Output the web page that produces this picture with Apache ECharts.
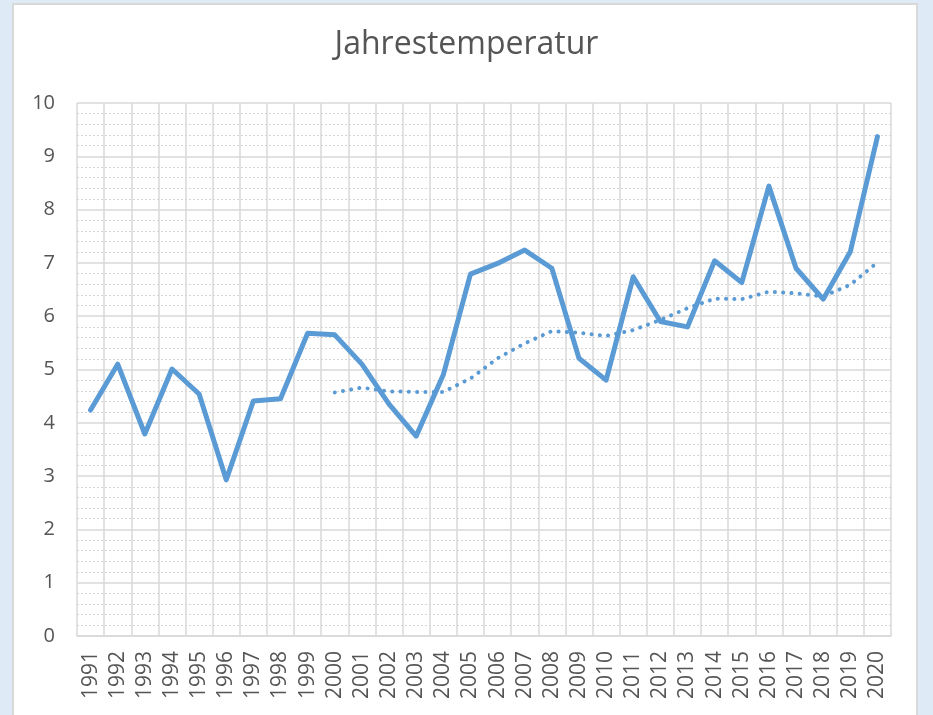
<!DOCTYPE html>
<html>
<head>
<meta charset="utf-8">
<title>Jahrestemperatur</title>
<script src="https://cdn.jsdelivr.net/npm/echarts@6/dist/echarts.min.js"></script>
<style>
  html, body { margin: 0; padding: 0; background: #deebf7; }
  .frame {
    position: absolute; left: 12px; top: 3px; width: 906px; height: 730px;
    background: #fff; border: 2px solid #d9d9d9; box-sizing: border-box;
  }
  #chart { position: absolute; left: 0; top: 0; width: 933px; height: 715px; }
</style>
</head>
<body>
<div class="frame"></div>
<div id="chart"></div>
<script>
var years = ['1991','1992','1993','1994','1995','1996','1997','1998','1999','2000',
  '2001','2002','2003','2004','2005','2006','2007','2008','2009','2010',
  '2011','2012','2013','2014','2015','2016','2017','2018','2019','2020'];

var temperatur = [4.24, 5.10, 3.79, 5.01, 4.54, 2.93, 4.41, 4.45, 5.68, 5.65,
  5.10, 4.35, 3.75, 4.90, 6.79, 6.99, 7.24, 6.90, 5.21, 4.80,
  6.74, 5.90, 5.80, 7.04, 6.63, 8.44, 6.90, 6.32, 7.21, 9.37];

// gleitender Durchschnitt (10 Jahre), erst ab 2000
var mittel = [null, null, null, null, null, null, null, null, null, 4.57,
  4.66, 4.59, 4.58, 4.58, 4.83, 5.21, 5.49, 5.72, 5.69, 5.63,
  5.74, 5.93, 6.15, 6.33, 6.32, 6.46, 6.43, 6.37, 6.59, 7.01];

var textColor = '#555555';
var gridColor = '#d9d9d9';
var lineColor = '#5b9bd5';

var option = {
  animation: false,
  title: {
    text: 'Jahrestemperatur',
    left: 'center',
    top: 24,
    textStyle: { fontFamily: 'Open Sans', fontWeight: 'normal', fontSize: 32, color: textColor }
  },
  grid: { left: 77, right: 42, top: 103, bottom: 79, containLabel: false },
  xAxis: {
    type: 'category',
    data: years,
    boundaryGap: true,
    axisLine: { show: true, lineStyle: { color: gridColor, width: 1.5 } },
    axisTick: { show: false },
    axisLabel: {
      rotate: 90, interval: 0, margin: 15,
      fontFamily: 'Open Sans', fontSize: 21, color: textColor
    },
    splitLine: { show: true, interval: 0, lineStyle: { color: gridColor, width: 1.5 } }
  },
  yAxis: {
    type: 'value',
    min: 0, max: 10, interval: 1,
    axisLine: { show: false },
    axisTick: { show: false },
    axisLabel: { margin: 22, fontFamily: 'Open Sans', fontSize: 20, color: textColor },
    splitLine: { show: true, lineStyle: { color: gridColor, width: 1.5 } },
    minorTick: { show: false, splitNumber: 5 },
    minorSplitLine: { show: true, lineStyle: { color: '#d6d6d6', width: 1, type: [2, 2] } }
  },
  series: [
    {
      name: 'Temperatur',
      type: 'line',
      data: temperatur,
      symbol: 'none',
      lineStyle: { color: lineColor, width: 5, join: 'round', cap: 'round' },
      z: 3
    },
    {
      name: 'Mittel',
      type: 'line',
      data: mittel,
      symbol: 'none',
      connectNulls: false,
      lineStyle: { color: lineColor, width: 4, type: [0.1, 8.2], cap: 'round' },
      z: 2
    }
  ]
};

var myChart = echarts.init(document.getElementById('chart'));
myChart.setOption(option);
</script>
</body>
</html>
